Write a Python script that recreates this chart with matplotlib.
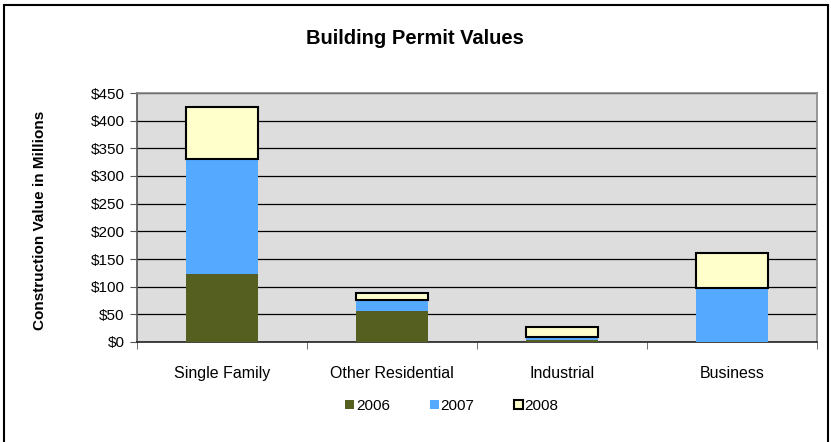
import numpy as np
import matplotlib.pyplot as plt
from matplotlib.patches import Rectangle

plt.rcParams['font.family'] = ['Liberation Sans', 'DejaVu Sans']

categories = ['Single Family', 'Other Residential', 'Industrial', 'Business']
years = ['2006', '2007', '2008']
vals_2006 = [123, 56, 3, 0]
vals_2007 = [208, 20, 6, 97]
vals_2008 = [93, 12, 19, 63]
yticks = [0, 50, 100, 150, 200, 250, 300, 350, 400, 450]

colors = ['#545F20', '#55AAFF', '#FFFFCC']

fig = plt.figure(figsize=(8.31, 4.42), dpi=100)
W, H = 831, 442
ax = fig.add_axes([137 / W, 1 - 342 / H, 680 / W, 249 / H])

# outer chart frame (bottom runs off the image)
fig.patches.append(Rectangle((4 / W, -0.05), 824 / W, 1.05 - 5 / H,
                             transform=fig.transFigure, fill=False,
                             edgecolor='black', linewidth=1.5))

x = np.arange(len(categories))
w = 0.42
bottom = np.zeros(len(categories))
series = [vals_2006, vals_2007, vals_2008]
for i, (yr, v) in enumerate(zip(years, series)):
    v = np.array(v, dtype=float)
    if i == 2:
        ax.bar(x, v, w, bottom=bottom, color=colors[i], edgecolor='black',
               linewidth=1.5, label=yr, zorder=3)
    else:
        ax.bar(x, v, w, bottom=bottom, color=colors[i], edgecolor='none',
               label=yr, zorder=3)
    bottom += v

ax.set_facecolor('#DDDDDD')
ax.set_xlim(-0.5, len(categories) - 0.5)
ax.set_ylim(0, 450)
ax.set_yticks(yticks)
ax.set_yticklabels(['$' + str(t) for t in yticks], fontsize=11)
ax.yaxis.grid(True, color='black', linewidth=0.9, zorder=0)
ax.set_axisbelow(True)

ax.set_xticks(x)
ax.set_xticklabels(categories, fontsize=11.5)
ax.tick_params(axis='x', length=0, pad=17)
# boundary tick marks between categories
ax.set_xticks(np.arange(-0.5, len(categories)), minor=True)
ax.tick_params(axis='x', which='minor', length=5, direction='out', color='#555555')
ax.tick_params(axis='y', length=5, direction='out', color='#555555', pad=4)

for side in ['top', 'right']:
    ax.spines[side].set_color('#888888')
    ax.spines[side].set_linewidth(1.2)
ax.spines['left'].set_color('#555555')
ax.spines['bottom'].set_color('#222222')
ax.spines['left'].set_linewidth(1.2)
ax.spines['bottom'].set_linewidth(1.2)

fig.text(415 / W, 1 - 38 / H, 'Building Permit Values', fontsize=14.5,
         fontweight='bold', ha='center', va='center')
fig.text(40 / W, 1 - 220 / H, 'Construction Value in Millions', fontsize=11,
         fontweight='bold', rotation=90, ha='center', va='center')

fig.legend(loc='center', bbox_to_anchor=(452 / W, 1 - 406 / H), ncol=3,
           frameon=False, fontsize=11, handlelength=0.6, handleheight=0.6,
           handletextpad=0.1, columnspacing=2.6)

fig.savefig('out.png', dpi=100)
